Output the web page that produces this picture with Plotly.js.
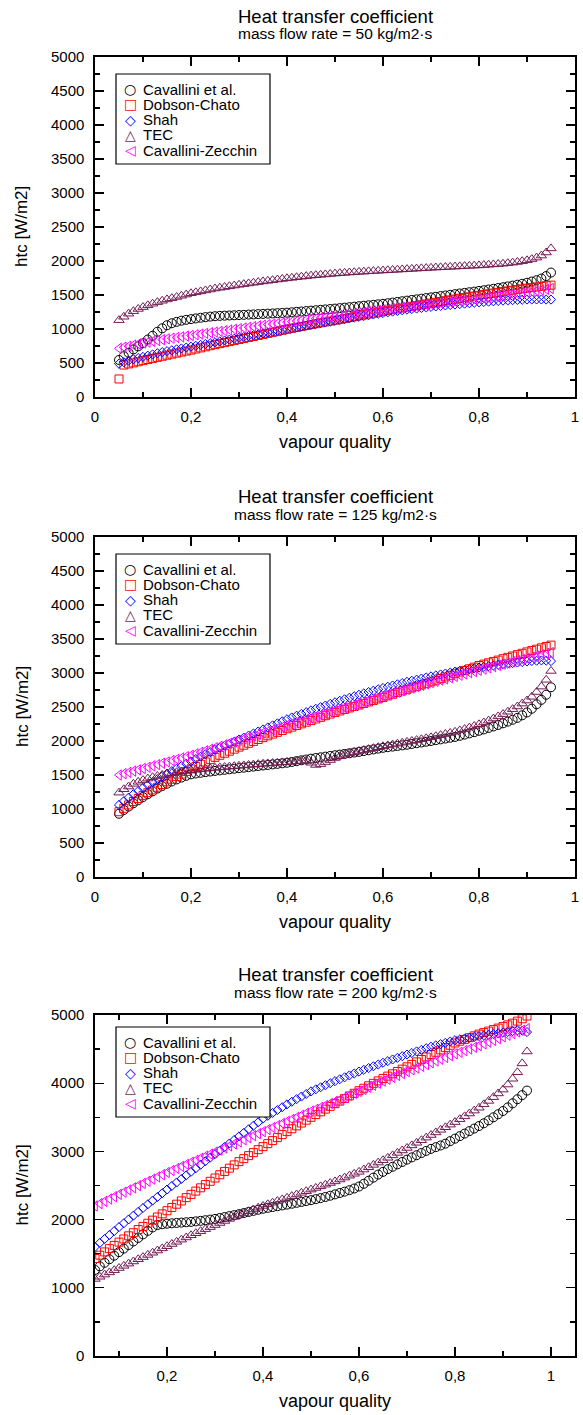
<!DOCTYPE html>
<html>
<head>
<meta charset="utf-8">
<script src="https://cdn.plot.ly/plotly-3.0.1.min.js"></script>
<style>html,body{margin:0;padding:0;background:#fff;}#chart{width:583px;height:1415px;}</style>
</head>
<body>
<div id="chart"></div>
<script>
// vapour quality grid
const quality = [0.05,0.06,0.07,0.08,0.09,0.10,0.11,0.12,0.13,0.14,0.15,0.16,0.17,0.18,0.19,0.20,0.21,0.22,0.23,0.24,0.25,0.26,0.27,0.28,0.29,0.30,
0.31,0.32,0.33,0.34,0.35,0.36,0.37,0.38,0.39,0.40,0.41,0.42,0.43,0.44,0.45,0.46,0.47,0.48,0.49,0.50,
0.51,0.52,0.53,0.54,0.55,0.56,0.57,0.58,0.59,0.60,0.61,0.62,0.63,0.64,0.65,0.66,0.67,0.68,0.69,0.70,
0.71,0.72,0.73,0.74,0.75,0.76,0.77,0.78,0.79,0.80,0.81,0.82,0.83,0.84,0.85,0.86,0.87,0.88,0.89,0.90,
0.91,0.92,0.93,0.94,0.95];

const seriesNames = ["Cavallini et al.","Dobson-Chato","Shah","TEC","Cavallini-Zecchin"];
const legendGlyphs = ["○","□","◇","△","◁"];
const massFlowLabels = ["mass flow rate = 50 kg/m2·s","mass flow rate = 125 kg/m2·s","mass flow rate = 200 kg/m2·s"];

// G = 50 kg/m2s
const cavallini50 = [545,600,650,700,745,790,845,900,960,1010,1055,1085,1105,1122,1135,1145,1155,1165,1174,1182,1188,1193,1196,1199,1202,1205,
1208,1212,1215,1219,1222,1226,1229,1233,1236,1240,
1246,1252,1258,1264,1270,1276,1282,1288,1294,1300,
1307,1314,1321,1328,1335,1342,1349,1356,1363,1370,
1379,1389,1398,1408,1417,1427,1436,1446,1455,1465,
1474,1484,1493,1503,1512,1522,1531,1541,1550,1560,
1570,1581,1592,1603,1614,1626,1638,1651,1665,1680,
1698,1718,1742,1778,1830];
const dobson50 = [265,470,486,502,518,535,551,567,583,599,615,630,645,660,675,690,706,722,738,754,770,785,800,815,830,845,
860,875,890,905,920,935,950,965,980,995,
1009,1023,1037,1051,1065,1078,1091,1104,1117,1130,
1143,1156,1169,1182,1195,1208,1221,1234,1247,1260,
1272,1284,1296,1308,1320,1332,1344,1356,1368,1380,
1392,1404,1416,1428,1440,1451,1462,1473,1484,1495,
1506,1517,1528,1539,1550,1560,1570,1580,1590,1600,
1609,1618,1627,1636,1645];
const shah50 = [490,512,534,555,573,590,608,626,644,660,675,688,701,714,727,740,753,766,779,792,805,818,831,844,857,870,
883,896,909,922,935,948,961,974,987,1000,
1012,1024,1036,1048,1060,1072,1084,1096,1108,1120,
1132,1144,1156,1168,1180,1191,1202,1213,1224,1235,
1245,1255,1265,1275,1285,1293,1301,1309,1317,1325,
1332,1339,1346,1353,1360,1366,1373,1379,1386,1392,
1397,1402,1407,1412,1417,1420,1424,1427,1430,1433,
1434,1434,1434,1433,1432];
const tec50 = [1130,1180,1225,1262,1295,1322,1348,1372,1395,1415,1435,1453,1471,1489,1507,1525,1539,1553,1567,1581,1595,1606,1617,1628,1639,1650,
1660,1670,1680,1690,1700,1709,1718,1727,1736,1745,
1753,1761,1769,1777,1785,1791,1797,1803,1809,1815,
1820,1825,1830,1835,1840,1844,1848,1852,1856,1860,
1864,1868,1872,1876,1880,1884,1888,1892,1896,1900,
1904,1907,1911,1914,1918,1921,1925,1928,1932,1935,
1940,1945,1950,1955,1960,1968,1976,1985,1997,2010,
2028,2050,2080,2125,2185];
const zecchin50 = [715,731,747,763,779,795,807,819,831,843,855,865,875,885,895,905,915,925,935,945,955,965,975,985,995,1005,
1015,1025,1035,1045,1055,1064,1073,1082,1091,1100,
1109,1118,1127,1136,1145,1154,1163,1172,1181,1190,
1199,1208,1217,1226,1235,1244,1253,1262,1271,1280,
1288,1296,1304,1312,1320,1329,1338,1347,1356,1365,
1373,1381,1389,1397,1405,1413,1421,1429,1437,1445,
1454,1463,1472,1481,1490,1500,1510,1520,1530,1540,
1551,1562,1573,1584,1595];

// G = 125 kg/m2s
const cavallini125 = [930,985,1035,1085,1130,1175,1218,1260,1300,1338,1372,1405,1435,1462,1488,1510,1522,1532,1542,1551,1560,1568,1576,1584,1592,1600,
1608,1616,1624,1632,1640,1648,1656,1664,1672,1680,
1692,1704,1716,1728,1740,1750,1760,1770,1780,1790,
1800,1810,1820,1830,1840,1852,1864,1876,1888,1900,
1909,1918,1927,1936,1945,1956,1967,1978,1989,2000,
2012,2024,2036,2048,2060,2076,2094,2112,2130,2150,
2170,2192,2214,2236,2260,2285,2312,2340,2378,2420,
2475,2540,2605,2680,2790];
const dobson125 = [960,1010,1060,1110,1155,1200,1240,1280,1320,1360,1400,1438,1476,1514,1552,1590,1624,1658,1692,1726,1760,1790,1820,1850,1880,1910,
1938,1966,1994,2022,2050,2076,2102,2128,2154,2180,
2204,2228,2252,2276,2300,2324,2348,2372,2396,2420,
2442,2464,2486,2508,2530,2552,2574,2596,2618,2640,
2664,2688,2712,2736,2760,2782,2804,2826,2848,2870,
2894,2918,2942,2966,2990,3014,3038,3062,3086,3110,
3130,3150,3170,3190,3210,3230,3250,3270,3290,3310,
3330,3350,3370,3390,3410];
const shah125 = [1060,1115,1168,1218,1265,1310,1355,1398,1440,1481,1520,1557,1594,1630,1665,1700,1735,1770,1804,1837,1870,1900,1930,1960,1990,2020,
2050,2080,2110,2140,2170,2200,2230,2260,2290,2320,
2346,2372,2398,2424,2450,2474,2498,2522,2546,2570,
2592,2614,2636,2658,2680,2700,2720,2740,2760,2780,
2798,2816,2834,2852,2870,2886,2902,2918,2934,2950,
2964,2978,2992,3006,3020,3032,3044,3056,3068,3080,
3090,3100,3110,3120,3130,3138,3146,3154,3162,3170,
3176,3181,3185,3182,3175];
const tec125 = [1240,1290,1330,1370,1400,1425,1447,1467,1485,1501,1515,1528,1540,1551,1561,1570,1577,1584,1591,1598,1605,1611,1617,1623,1629,1635,
1641,1647,1653,1659,1665,1670,1675,1680,1685,1690,
1695,1700,1705,1712,1680,1648,1660,1690,1720,1750,
1775,1798,1818,1836,1852,1866,1880,1894,1908,1922,
1935,1948,1961,1974,1987,2000,2013,2026,2040,2054,
2070,2086,2102,2118,2135,2155,2175,2197,2220,2245,
2272,2300,2330,2362,2395,2430,2468,2508,2550,2595,
2650,2720,2800,2900,3030];
const zecchin125 = [1500,1519,1538,1557,1576,1595,1614,1634,1653,1673,1692,1712,1731,1751,1770,1790,1812,1834,1856,1878,1900,1922,1944,1966,1988,2010,
2032,2054,2076,2098,2120,2142,2164,2186,2208,2230,
2252,2274,2296,2318,2340,2362,2384,2406,2428,2450,
2470,2490,2510,2530,2550,2572,2594,2616,2638,2660,
2680,2700,2720,2740,2760,2780,2800,2820,2840,2860,
2878,2896,2914,2932,2950,2968,2986,3004,3022,3040,
3058,3076,3094,3112,3130,3147,3164,3181,3198,3215,
3232,3249,3266,3283,3300];

// G = 200 kg/m2s
const cavallini200 = [1263,1315,1367,1419,1471,1523,1575,1627,1679,1731,1783,1835,1885,1920,1932,1940,1946,1951,1956,1961,1966,1974,1982,1991,2000,2010,
2023,2037,2051,2065,2080,2096,2112,2128,2144,2160,
2172,2184,2196,2208,2220,2233,2246,2259,2272,2285,
2300,2315,2332,2350,2370,2390,2410,2432,2456,2485,
2525,2570,2615,2660,2700,2740,2775,2810,2845,2880,
2912,2944,2976,3007,3037,3062,3087,3113,3150,3187,
3224,3261,3298,3335,3372,3412,3455,3500,3545,3592,
3645,3705,3765,3825,3892];
const dobson200 = [1430,1478,1526,1574,1622,1670,1716,1762,1808,1854,1900,1946,1992,2038,2084,2130,2178,2226,2274,2322,2370,2418,2466,2514,2562,2610,
2658,2706,2754,2802,2850,2894,2938,2982,3026,3070,
3114,3158,3202,3246,3290,3332,3374,3416,3458,3500,
3540,3580,3620,3660,3700,3738,3776,3814,3852,3890,
3926,3962,3998,4034,4070,4104,4138,4172,4206,4240,
4276,4312,4348,4384,4420,4454,4488,4522,4556,4590,
4616,4642,4668,4694,4720,4742,4764,4786,4808,4830,
4855,4880,4910,4945,4985];
const shah200 = [1600,1658,1716,1774,1832,1890,1946,2002,2058,2114,2170,2224,2278,2332,2386,2440,2492,2544,2596,2648,2700,2752,2804,2856,2908,2960,
3012,3064,3116,3168,3220,3272,3324,3376,3428,3480,
3522,3564,3606,3648,3690,3728,3766,3804,3842,3880,
3910,3940,3970,4000,4030,4058,4086,4114,4142,4170,
4196,4222,4248,4274,4300,4324,4348,4372,4396,4420,
4443,4466,4489,4512,4535,4554,4573,4592,4611,4630,
4642,4654,4666,4678,4690,4700,4710,4720,4730,4740,
4752,4764,4775,4770,4750];
const tec200 = [1130,1162,1194,1226,1258,1290,1322,1354,1386,1418,1450,1482,1514,1546,1578,1610,1642,1674,1706,1738,1770,1800,1830,1860,1890,1920,
1950,1980,2010,2040,2070,2096,2122,2148,2174,2200,
2224,2248,2272,2296,2320,2344,2368,2392,2416,2440,
2464,2488,2512,2536,2560,2588,2616,2644,2672,2700,
2734,2768,2802,2836,2870,2906,2942,2978,3014,3050,
3088,3126,3164,3202,3240,3278,3316,3354,3392,3430,
3472,3514,3556,3598,3640,3690,3740,3795,3850,3906,
3980,4065,4160,4290,4465];
const zecchin200 = [2200,2234,2268,2302,2336,2370,2402,2434,2466,2498,2530,2562,2594,2626,2658,2690,2720,2750,2780,2810,2840,2870,2900,2930,2960,2990,
3020,3050,3080,3110,3140,3170,3200,3230,3260,3290,
3320,3350,3380,3410,3440,3470,3500,3530,3560,3590,
3618,3646,3674,3702,3730,3760,3790,3820,3850,3880,
3910,3940,3970,4000,4030,4058,4086,4114,4142,4170,
4196,4222,4248,4274,4300,4326,4352,4378,4404,4430,
4454,4478,4502,4526,4550,4576,4602,4628,4654,4680,
4704,4728,4752,4776,4800];

const panels = [
  [cavallini50, dobson50, shah50, tec50, zecchin50],
  [cavallini125, dobson125, shah125, tec125, zecchin125],
  [cavallini200, dobson200, shah200, tec200, zecchin200]
];

// styling
const W = 583, H = 1415;
const styles = [
  {symbol:'circle-open', color:'#000000', size:9},
  {symbol:'square-open', color:'#ff0000', size:8},
  {symbol:'diamond-open', color:'#0000ff', size:7},
  {symbol:'triangle-up-open', color:'#741b56', size:9},
  {symbol:'triangle-left-open', color:'#ff00ff', size:9}
];
const plotLeft = 95, plotRight = 575;
const plotTops = [57, 537, 1015];
const plotBottoms = [397, 877, 1356];
const legendBoxes = [[116, 270, 74, 164], [116, 270, 554, 644], [116, 270, 1027, 1117]];
const px = v => v / W;
const py = v => 1 - v / H;

const traces = [];
panels.forEach((series, p) => {
  const sfx = p === 0 ? '' : String(p + 1);
  series.forEach((vals, s) => {
    traces.push({
      type: 'scatter', mode: 'markers',
      x: quality, y: vals,
      name: seriesNames[s],
      xaxis: 'x' + sfx, yaxis: 'y' + sfx,
      showlegend: false,
      marker: {symbol: styles[s].symbol, size: styles[s].size, color: styles[s].color,
               line: {color: styles[s].color, width: 1}}
    });
  });
});

const fontFam = 'Liberation Sans, Arial, sans-serif';
function xAxis(p) {
  const third = p === 2;
  return {
    domain: [px(plotLeft), px(plotRight)],
    anchor: 'y' + (p === 0 ? '' : p + 1),
    range: third ? [0.05, 1.05] : [0, 1],
    tick0: 0, dtick: 0.2,
    showline: true, linecolor: '#000', linewidth: 1.6, mirror: 'ticks',
    ticks: 'inside', ticklen: 9, tickwidth: 1.3, tickcolor: '#000',
    minor: {ticks: 'inside', ticklen: 5, tickwidth: 1.3, tickcolor: '#000', tick0: 0, dtick: 0.1, showgrid: false},
    showgrid: false, zeroline: false,
    tickfont: {size: 15, color: '#000', family: fontFam},
    ticklabelstandoff: 5
  };
}
function yAxis(p) {
  const third = p === 2;
  return {
    domain: [py(plotBottoms[p]), py(plotTops[p])],
    anchor: 'x' + (p === 0 ? '' : p + 1),
    range: [0, 5000],
    tick0: 0, dtick: third ? 1000 : 500,
    showline: true, linecolor: '#000', linewidth: 1.6, mirror: 'ticks',
    ticks: 'inside', ticklen: 9, tickwidth: 1.3, tickcolor: '#000',
    minor: {ticks: 'inside', ticklen: 5, tickwidth: 1.3, tickcolor: '#000', tick0: 0, dtick: third ? 500 : 250, showgrid: false},
    showgrid: false, zeroline: false,
    tickfont: {size: 15, color: '#000', family: fontFam},
    ticklabelstandoff: 6
  };
}

const layout = {
  width: W, height: H,
  margin: {l: 0, r: 0, t: 0, b: 0},
  paper_bgcolor: '#fff', plot_bgcolor: '#fff',
  font: {family: fontFam, color: '#000'},
  separators: ',.',
  showlegend: false,
  annotations: [], shapes: []
};
for (let p = 0; p < 3; p++) {
  const sfx = p === 0 ? '' : String(p + 1);
  layout['xaxis' + sfx] = xAxis(p);
  layout['yaxis' + sfx] = yAxis(p);
  const cx = px((plotLeft + plotRight) / 2);
  layout.annotations.push(
    {text: 'Heat transfer coefficient', xref: 'paper', yref: 'paper', x: cx, y: py(plotTops[p] - 41),
     xanchor: 'center', yanchor: 'middle', showarrow: false, font: {size: 18.5, color: '#000'}},
    {text: massFlowLabels[p], xref: 'paper', yref: 'paper', x: cx, y: py(plotTops[p] - 23),
     xanchor: 'center', yanchor: 'middle', showarrow: false, font: {size: 15.5, color: '#000'}},
    {text: 'vapour quality', xref: 'paper', yref: 'paper', x: cx, y: py(plotBottoms[p] + 45),
     xanchor: 'center', yanchor: 'middle', showarrow: false, font: {size: 18, color: '#000'}},
    {text: 'htc [W/m2]', xref: 'paper', yref: 'paper', x: px(22), y: py((plotTops[p] + plotBottoms[p]) / 2),
     xanchor: 'center', yanchor: 'middle', textangle: -90, showarrow: false, font: {size: 17, color: '#000'}}
  );
  // legend box with one row per series
  const [bl, br, bt, bb] = legendBoxes[p];
  layout.shapes.push({type: 'rect', xref: 'paper', yref: 'paper', layer: 'above',
    x0: px(bl), x1: px(br), y0: py(bb), y1: py(bt),
    line: {color: '#000', width: 1.2}, fillcolor: '#fff'});
  seriesNames.forEach((name, s) => {
    const rowY = py(bt + 15 + s * 15.3);
    layout.annotations.push(
      {text: legendGlyphs[s], xref: 'paper', yref: 'paper', x: px(bl + 14), y: rowY,
       xanchor: 'center', yanchor: 'middle', showarrow: false,
       font: {size: 14, color: styles[s].color, family: 'DejaVu Sans'}},
      {text: name, xref: 'paper', yref: 'paper', x: px(bl + 25), y: rowY,
       xanchor: 'left', yanchor: 'middle', showarrow: false,
       font: {size: 15, color: '#000'}}
    );
  });
}

Plotly.newPlot('chart', traces, layout, {displayModeBar: false, responsive: false, staticPlot: true});
</script>
</body>
</html>
